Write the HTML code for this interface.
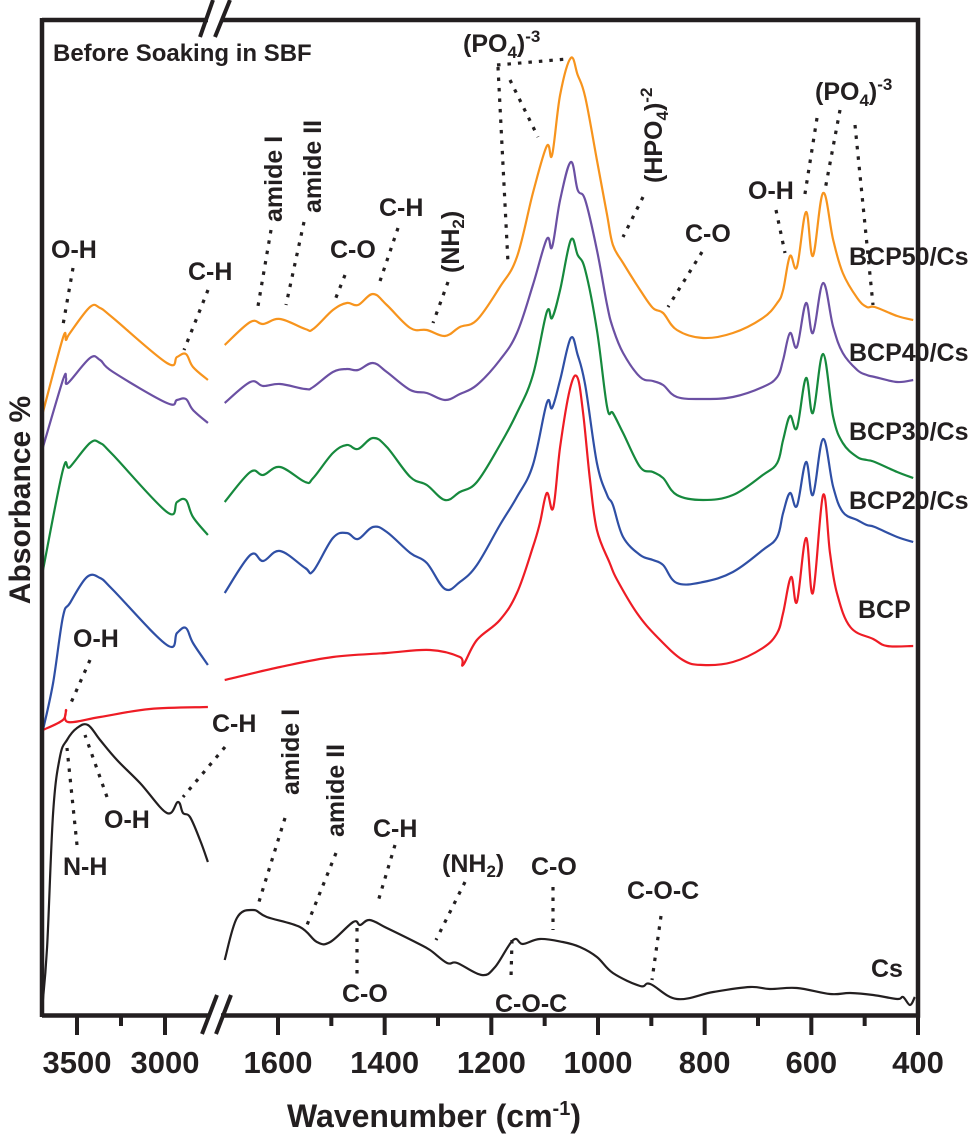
<!DOCTYPE html>
<html><head><meta charset="utf-8"><style>
html,body{margin:0;padding:0;background:#fff;}
svg{display:block;}
text{font-family:"Liberation Sans",Arial,sans-serif;font-weight:bold;fill:#231f20;}
.lbl{font-size:25px;}
.tick{font-size:31px;}
.lead{stroke:#231f20;stroke-width:3.2;stroke-dasharray:3.5 7;fill:none;}
</style></head><body>
<svg id="chart" width="975" height="1138" viewBox="0 0 975 1138">
  <g id="series"></g>
  <g id="frame">
    <path d="M42 20 L208 20 M221 20 L918 20 L918 1015.5 L221 1015.5 M208 1015.5 L42 1015.5 M42 18 L42 1017" stroke="#231f20" stroke-width="4.5" fill="none"/>
    <line x1="200" y1="37" x2="213" y2="0" stroke="#231f20" stroke-width="4"/>
    <line x1="215" y1="37" x2="230" y2="0" stroke="#231f20" stroke-width="4"/>
    <line x1="202" y1="1034" x2="217" y2="995" stroke="#231f20" stroke-width="4"/>
    <line x1="216" y1="1034" x2="231" y2="995" stroke="#231f20" stroke-width="4"/>
  </g>
  <g id="ticks"></g>
  <text class="tick" x="287" y="1127" style="font-size:32px">Wavenumber (cm<tspan dy="-12" font-size="20">-1</tspan><tspan dy="12">)</tspan></text>
  <text class="tick" transform="translate(30,500) rotate(-90)" text-anchor="middle" style="font-size:30px">Absorbance %</text>
  <text class="lbl" x="53" y="61" style="font-size:24px">Before Soaking in SBF</text>

  <g>
    <text class="lbl" x="51" y="258">O-H</text>
    <text class="lbl" x="188" y="280">C-H</text>
    <text class="lbl" transform="translate(282,222) rotate(-90)">amide I</text>
    <text class="lbl" transform="translate(321,213) rotate(-90)">amide II</text>
    <text class="lbl" x="330" y="258">C-O</text>
    <text class="lbl" x="379" y="216">C-H</text>
    <text class="lbl" transform="translate(459,273) rotate(-90)">(NH<tspan dy="5" font-size="17">2</tspan><tspan dy="-5">)</tspan></text>
    <text class="lbl" x="463" y="52">(PO<tspan dy="6" font-size="17">4</tspan><tspan dy="-6">)</tspan><tspan dy="-10" font-size="17">-3</tspan></text>
    <text class="lbl" transform="translate(662,183) rotate(-90)">(HPO<tspan dy="6" font-size="17">4</tspan><tspan dy="-6">)</tspan><tspan dy="-10" font-size="17">-2</tspan></text>
    <text class="lbl" x="685" y="242">C-O</text>
    <text class="lbl" x="748" y="199">O-H</text>
    <text class="lbl" x="815" y="100">(PO<tspan dy="6" font-size="17">4</tspan><tspan dy="-6">)</tspan><tspan dy="-10" font-size="17">-3</tspan></text>
    <text class="lbl" x="849" y="265">BCP50/Cs</text>
    <text class="lbl" x="849" y="361">BCP40/Cs</text>
    <text class="lbl" x="849" y="440">BCP30/Cs</text>
    <text class="lbl" x="849" y="509">BCP20/Cs</text>
    <text class="lbl" x="858" y="618">BCP</text>
    <text class="lbl" x="871" y="977">Cs</text>

    <text class="lbl" x="73" y="647">O-H</text>
    <text class="lbl" x="63" y="875">N-H</text>
    <text class="lbl" x="104" y="828">O-H</text>
    <text class="lbl" x="212" y="732">C-H</text>
    <text class="lbl" transform="translate(299,795) rotate(-90)">amide I</text>
    <text class="lbl" transform="translate(344,837) rotate(-90)">amide II</text>
    <text class="lbl" x="373" y="837">C-H</text>
    <text class="lbl" x="342" y="1002">C-O</text>
    <text class="lbl" x="442" y="872">(NH<tspan dy="5" font-size="17">2</tspan><tspan dy="-5">)</tspan></text>
    <text class="lbl" x="531" y="875">C-O</text>
    <text class="lbl" x="627" y="899">C-O-C</text>
    <text class="lbl" x="495" y="1012">C-O-C</text>
  </g>
  <g>
    <line class="lead" x1="73" y1="268" x2="63" y2="325"/>
    <line class="lead" x1="208" y1="290" x2="184" y2="350"/>
    <line class="lead" x1="271" y1="230" x2="257" y2="312"/>
    <line class="lead" x1="304" y1="222" x2="286" y2="305"/>
    <line class="lead" x1="345" y1="275" x2="335" y2="300"/>
    <line class="lead" x1="398" y1="228" x2="378" y2="287"/>
    <line class="lead" x1="448" y1="282" x2="433" y2="323"/>
    <line class="lead" x1="497" y1="65" x2="567" y2="59"/>
    <line class="lead" x1="498" y1="67" x2="508" y2="263"/>
    <line class="lead" x1="510" y1="80" x2="538" y2="137"/>
    <line class="lead" x1="643" y1="197" x2="623" y2="237"/>
    <line class="lead" x1="702" y1="252" x2="668" y2="307"/>
    <line class="lead" x1="776" y1="210" x2="785" y2="253"/>
    <line class="lead" x1="817" y1="118" x2="804" y2="200"/>
    <line class="lead" x1="840" y1="110" x2="825" y2="190"/>
    <line class="lead" x1="855" y1="125" x2="873" y2="305"/>
    <line class="lead" x1="90" y1="660" x2="70" y2="705"/>
    <line class="lead" x1="77" y1="845" x2="67" y2="748"/>
    <line class="lead" x1="107" y1="797" x2="85" y2="735"/>
    <line class="lead" x1="225" y1="747" x2="183" y2="797"/>
    <line class="lead" x1="285" y1="818" x2="258" y2="905"/>
    <line class="lead" x1="336" y1="853" x2="305" y2="930"/>
    <line class="lead" x1="395" y1="845" x2="377" y2="905"/>
    <line class="lead" x1="357" y1="928" x2="357" y2="975"/>
    <line class="lead" x1="465" y1="882" x2="436" y2="940"/>
    <line class="lead" x1="553" y1="887" x2="553" y2="930"/>
    <line class="lead" x1="661" y1="916" x2="652" y2="980"/>
    <line class="lead" x1="512" y1="940" x2="511" y2="978"/>
  </g>
</svg>
<script>
// ---- tick data ----
const leftMajorTicks = [3500, 3000];
const leftMinorTicks = [3250];
const rightMajorTicks = [1600, 1400, 1200, 1000, 800, 600, 400];
const rightMinorTicks = [1500, 1300, 1100, 900, 700, 500];

// ---- left segment (high wavenumber) data ----
const bcp50LeftW = [3693,3580,3562,3540,3426,3369,3295,2989,2932,2881,2841,2756];
const bcp50LeftV = [605,679,677,684,710,709,699,654,660,663,650,637];
const bcp40LeftW = [3693,3580,3562,3551,3426,3369,3295,2989,2932,2881,2841,2756];
const bcp40LeftV = [570,637,639,634,659,657,645,614,617,618,607,594];
const bcp30LeftW = [3693,3580,3540,3426,3369,3295,2989,2932,2881,2841,2756];
const bcp30LeftV = [447,547,550,574,574,562,505,515,517,500,482];
const bcp20LeftW = [3693,3636,3580,3540,3443,3369,3295,2989,2932,2881,2841,2756];
const bcp20LeftV = [287,334,400,414,440,439,427,372,384,389,374,352];
const bcpLeftW = [3693,3580,3562,3551,3369,3085,2756];
const bcpLeftV = [287,297,307,295,300,308,310];
const csLeftW = [3699,3670,3636,3597,3557,3500,3438,3369,3273,3142,2989,2926,2898,2858,2801,2756];
const csLeftV = [7,70,204,260,277,289,292,277,257,234,204,215,204,200,177,155];

// ---- right segment (fingerprint) data ----
const compositeRightW = [1700,1652,1628,1596,1549,1534,1497,1471,1450,1422,1396,1352,1321,1287,1259,1227,1184,1152,1122,1096,1086,1071,1051,1038,1024,1002,983,972,953,921,897,878,852,803,747,691,664,653,640,627,610,597,578,559,541,514,496,481,439,409];
const bcp50RightV = [672,695,693,698,688,688,707,714,712,723,712,689,687,681,690,697,730,760,824,871,862,922,959,942,920,857,802,772,754,727,709,704,687,679,684,699,714,727,761,750,805,761,824,777,744,719,710,710,701,697];
const bcp40RightV = [614,635,631,633,628,630,645,648,647,654,645,627,624,617,623,632,657,684,732,778,770,817,855,827,817,767,712,689,664,640,636,632,620,618,620,630,640,657,684,670,714,684,734,690,664,647,642,640,635,637];
const bcp30RightV = [515,545,542,550,535,539,564,572,568,579,570,540,532,517,525,535,572,604,642,705,699,727,777,762,747,687,610,604,584,550,545,539,522,517,522,542,554,577,601,589,639,604,663,600,574,560,557,555,545,539];
const bcp20RightV = [424,462,456,466,449,446,479,484,478,490,485,464,454,428,435,452,492,520,552,614,609,637,679,662,632,554,522,512,480,462,457,452,434,435,445,467,480,504,524,511,555,522,578,530,505,497,492,490,480,475];
const bcpRightW = [1700,1596,1497,1396,1315,1259,1253,1227,1184,1152,1122,1109,1096,1084,1071,1053,1039,1028,1015,1002,978,964,927,889,841,803,747,691,664,653,638,627,610,597,578,565,552,527,484,458,409];
const bcpRightV = [337,350,360,364,367,360,352,377,397,424,470,494,524,509,570,627,640,604,537,487,454,437,404,380,357,352,355,369,384,404,440,415,479,424,522,464,424,390,378,371,371];
const csRightW = [1700,1677,1647,1621,1559,1527,1502,1459,1446,1428,1396,1339,1315,1283,1264,1218,1193,1159,1141,1109,1066,1034,1002,972,921,902,852,784,715,678,627,565,527,484,439,428,415,406];
const csRightV = [57,99,107,100,90,75,75,95,92,97,89,74,67,54,54,42,50,77,73,78,75,70,60,44,31,33,18,25,30,28,29,23,24,22,18,20,12,20];

// ---- scales ----
function xLeft(w){ return 77 + (3500 - w) * 0.176; }
function xRight(w){ return 278 + (1600 - w) * (640/1200); }
function yScale(v){ return 1017 - v; }

const NS = "http://www.w3.org/2000/svg";
const seriesG = document.getElementById("series");
function smoothPath(pts){
  let d = "M" + pts[0][0].toFixed(1) + "," + pts[0][1].toFixed(1);
  for (let i = 0; i < pts.length - 1; i++){
    const p0 = pts[i-1] || pts[i], p1 = pts[i], p2 = pts[i+1], p3 = pts[i+2] || p2;
    const t = 0.18;
    const c1x = p1[0] + (p2[0]-p0[0])*t, c1y = p1[1] + (p2[1]-p0[1])*t;
    const c2x = p2[0] - (p3[0]-p1[0])*t, c2y = p2[1] - (p3[1]-p1[1])*t;
    d += " C" + c1x.toFixed(1)+","+c1y.toFixed(1)+" "+c2x.toFixed(1)+","+c2y.toFixed(1)+" "+p2[0].toFixed(1)+","+p2[1].toFixed(1);
  }
  return d;
}
function drawLine(ws, vs, xf, color, name){
  const pts = ws.map((w,i)=>[xf(w), yScale(vs[i])]);
  const p = document.createElementNS(NS, "path");
  p.setAttribute("d", smoothPath(pts));
  p.setAttribute("fill","none");
  p.setAttribute("stroke",color);
  p.setAttribute("stroke-width","2.2");
  p.setAttribute("stroke-linejoin","round");
  
  
  seriesG.appendChild(p);
}
const cOr="#f7941d", cPu="#6b50a3", cGr="#16893d", cBl="#2f4fa5", cRd="#ee1c25", cBk="#231f20";
drawLine(bcp50LeftW,bcp50LeftV,xLeft,cOr,"bcp50-cs-line-left");
drawLine(compositeRightW,bcp50RightV,xRight,cOr,"bcp50-cs-line-right");
drawLine(bcp40LeftW,bcp40LeftV,xLeft,cPu,"bcp40-cs-line-left");
drawLine(compositeRightW,bcp40RightV,xRight,cPu,"bcp40-cs-line-right");
drawLine(bcp30LeftW,bcp30LeftV,xLeft,cGr,"bcp30-cs-line-left");
drawLine(compositeRightW,bcp30RightV,xRight,cGr,"bcp30-cs-line-right");
drawLine(bcp20LeftW,bcp20LeftV,xLeft,cBl,"bcp20-cs-line-left");
drawLine(compositeRightW,bcp20RightV,xRight,cBl,"bcp20-cs-line-right");
drawLine(bcpLeftW,bcpLeftV,xLeft,cRd,"bcp-line-left");
drawLine(bcpRightW,bcpRightV,xRight,cRd,"bcp-line-right");
drawLine(csLeftW,csLeftV,xLeft,cBk,"cs-line-left");
drawLine(csRightW,csRightV,xRight,cBk,"cs-line-right");

// ---- ticks ----
const tg = document.getElementById("ticks");
function tick(x, major, label){
  const l = document.createElementNS(NS,"line");
  l.setAttribute("x1",x); l.setAttribute("x2",x);
  l.setAttribute("y1",1015); l.setAttribute("y2", major?1035:1026);
  l.setAttribute("stroke","#231f20"); l.setAttribute("stroke-width","4");
  
  
  tg.appendChild(l);
  if(label!==undefined){
    const t = document.createElementNS(NS,"text");
    t.setAttribute("x",x); t.setAttribute("y",1073);
    t.setAttribute("text-anchor","middle");
    t.setAttribute("class","tick");
    t.textContent = label;
    
    
    tg.appendChild(t);
  }
}
leftMajorTicks.forEach(w=>tick(xLeft(w),true,String(w)));
leftMinorTicks.forEach(w=>tick(xLeft(w),false));
rightMajorTicks.forEach(w=>tick(xRight(w),true,String(w)));
rightMinorTicks.forEach(w=>tick(xRight(w),false));
</script>
</body></html>
